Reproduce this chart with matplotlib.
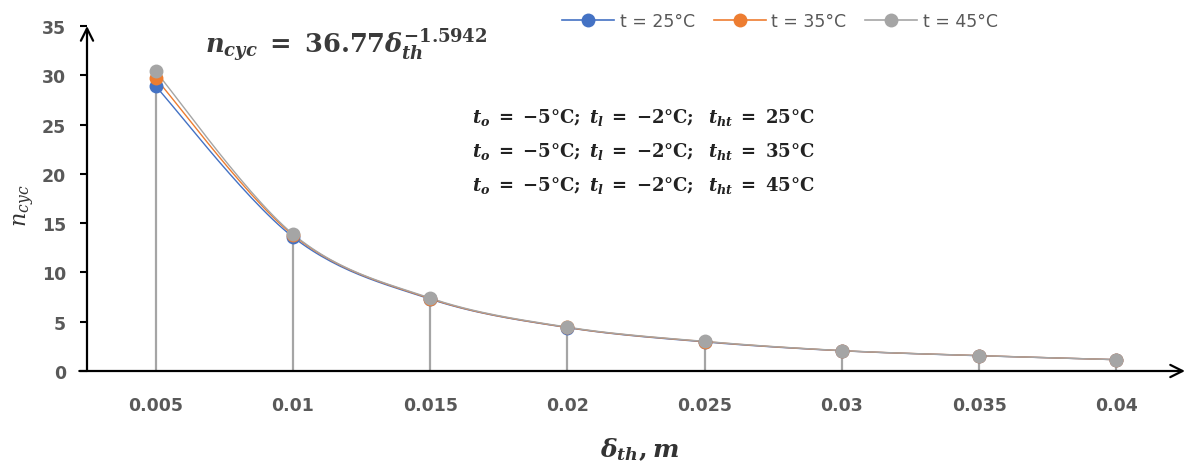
import numpy as np
import matplotlib
matplotlib.use("Agg")
import matplotlib.pyplot as plt
from matplotlib.lines import Line2D

# ---- data ----
categories = ["0.005", "0.01", "0.015", "0.02", "0.025", "0.03", "0.035", "0.04"]
n_25 = [28.9, 13.6, 7.30, 4.40, 2.95, 2.05, 1.55, 1.15]
n_35 = [29.7, 13.8, 7.35, 4.42, 2.98, 2.06, 1.56, 1.15]
n_45 = [30.4, 13.9, 7.40, 4.45, 3.00, 2.07, 1.56, 1.15]
series_labels = ["t = 25°C", "t = 35°C", "t = 45°C"]
y_ticks = [0, 5, 10, 15, 20, 25, 30, 35]
cond_lines = [r"$t_o\;=\;{-}5\mathrm{°C};\;t_l\;=\;{-}2\mathrm{°C};\;\;t_{ht}\;=\;25\mathrm{°C}$",
              r"$t_o\;=\;{-}5\mathrm{°C};\;t_l\;=\;{-}2\mathrm{°C};\;\;t_{ht}\;=\;35\mathrm{°C}$",
              r"$t_o\;=\;{-}5\mathrm{°C};\;t_l\;=\;{-}2\mathrm{°C};\;\;t_{ht}\;=\;45\mathrm{°C}$"]
equation = r"$n_{cyc}\;=\;36.77\delta_{th}^{-1.5942}$"

colors = ["#4472C4", "#ED7D31", "#A5A5A5"]

plt.rcParams["mathtext.fontset"] = "custom"
plt.rcParams["mathtext.it"] = "DejaVu Serif:italic:bold"
plt.rcParams["mathtext.rm"] = "DejaVu Serif:bold"
plt.rcParams["mathtext.bf"] = "DejaVu Serif:bold"
plt.rcParams["mathtext.sf"] = "DejaVu Serif:italic"


def smooth(x, y, n=30):
    """Excel-like smoothed line (Catmull-Rom Bezier through the points)."""
    x = np.asarray(x, float)
    y = np.asarray(y, float)
    P = np.column_stack([x, y])
    P_ext = np.vstack([P[0], P, P[-1]])
    out = []
    t = np.linspace(0, 1, n)[:, None]
    for i in range(len(P) - 1):
        p0, p1, p2, p3 = P_ext[i], P_ext[i + 1], P_ext[i + 2], P_ext[i + 3]
        c1 = p1 + (p2 - p0) / 6.0
        c2 = p2 - (p3 - p1) / 6.0
        seg = ((1 - t) ** 3) * p1 + 3 * ((1 - t) ** 2) * t * c1 + 3 * (1 - t) * t ** 2 * c2 + t ** 3 * p2
        out.append(seg if i == 0 else seg[1:])
    out = np.vstack(out)
    return out[:, 0], out[:, 1]


fig = plt.figure(figsize=(11.88, 4.64), dpi=100)
ax = fig.add_axes([87 / 1188, 1 - 372 / 464, (1185 - 87) / 1188, (372 - 27) / 464])

xpos = np.arange(len(categories))
top = np.maximum.reduce([n_25, n_35, n_45])
ax.vlines(xpos, 0, top, colors="#A5A5A5", lw=1.6, zorder=1)

handles = []
for vals, c, lab in zip([n_25, n_35, n_45], colors, series_labels):
    sx, sy = smooth(xpos, vals)
    ax.plot(sx, sy, color=c, lw=1.0, zorder=2)
    ax.plot(xpos, vals, "o", color=c, ms=10, zorder=3, markeredgewidth=0)
    handles.append(Line2D([0], [0], color=c, lw=1.2, marker="o", ms=10, markeredgewidth=0))

ax.set_xlim(-0.5, 7.5)
ax.set_ylim(0, 35)
ax.set_xticks(xpos)
ax.set_xticklabels(categories)
ax.set_yticks(y_ticks)
for s in ax.spines.values():
    s.set_visible(False)
ax.tick_params(axis="x", length=0, pad=18, labelsize=12.5, labelcolor="#595959")
ax.tick_params(axis="y", length=5, width=1.5, color="black", pad=10, labelsize=12.5, labelcolor="#595959")
for lbl in ax.get_xticklabels() + ax.get_yticklabels():
    lbl.set_fontweight("bold")

# axis lines with arrows
ax.annotate("", xy=(0, 1.0), xytext=(0, 0), xycoords="axes fraction",
            arrowprops=dict(arrowstyle="->", lw=1.6, color="black", mutation_scale=22, shrinkA=0, shrinkB=0))
ax.annotate("", xy=(1.0, 0), xytext=(-0.007, 0), xycoords="axes fraction",
            arrowprops=dict(arrowstyle="->", lw=1.6, color="black", mutation_scale=22, shrinkA=0, shrinkB=0))

# labels
fig.text(640 / 1188, 1 - 450 / 464, r"$\delta_{th},m$", ha="center", va="center", fontsize=18, color="#333333")
fig.text(25 / 1188, 1 - 206 / 464, r"$\mathsf{n_{cyc}}$", ha="center", va="center", fontsize=16,
         rotation=90, color="#333333")
fig.text(205 / 1188, 1 - 45 / 464, equation, ha="left", va="center", fontsize=18.5, color="#3a3a3a")
for i, t in enumerate(cond_lines):
    fig.text(472 / 1188, 1 - (118 + 34 * i) / 464, t, ha="left", va="center", fontsize=13, color="#222222")

leg = fig.legend(handles, series_labels, loc="center", bbox_to_anchor=(780 / 1188, 1 - 22 / 464),
                 ncol=3, frameon=False, fontsize=12.5, handlelength=3.0, handletextpad=0.3,
                 columnspacing=1.1, labelcolor="#595959")

fig.savefig("out.png", dpi=100)
